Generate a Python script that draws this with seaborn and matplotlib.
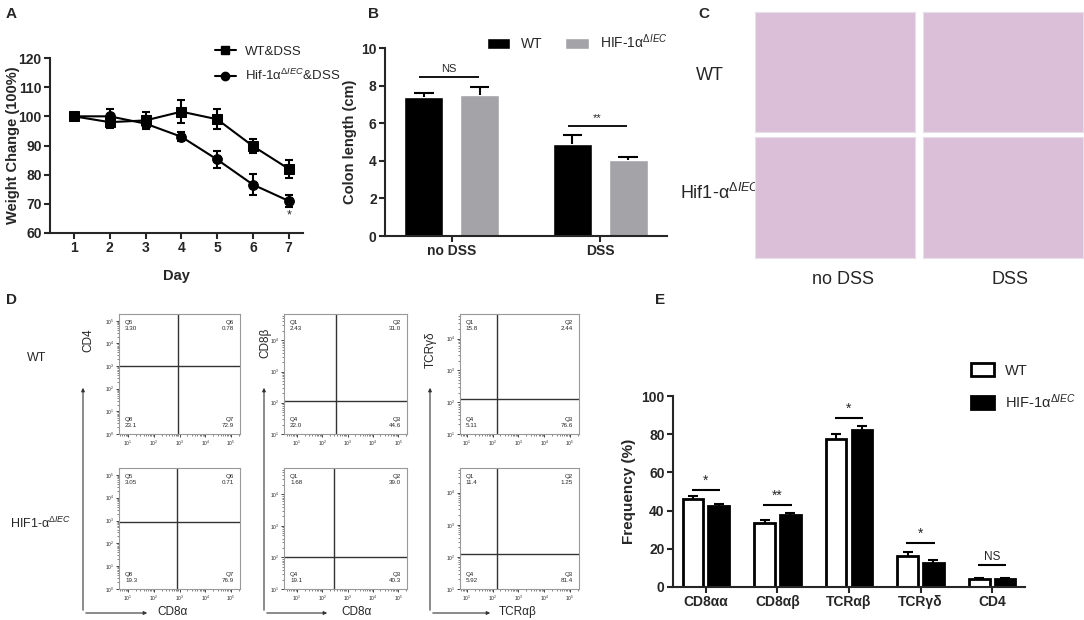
import matplotlib
matplotlib.use("Agg")
import matplotlib.pyplot as plt
import seaborn as sns
import numpy as np
import pandas as pd
from matplotlib.patches import Patch
from matplotlib.lines import Line2D

# ---- data ----
days = [1, 2, 3, 4, 5, 6, 7]
wt_dss = [100, 98.0, 98.6, 101.6, 99.0, 89.8, 82.0]
wt_dss_err = [0.4, 2.0, 3.0, 3.9, 3.5, 2.5, 3.0]
hif_dss = [100, 100.0, 97.5, 93.0, 85.2, 76.6, 71.0]
hif_dss_err = [0.3, 2.4, 1.5, 1.5, 3.0, 3.5, 2.0]

conditions = ["no DSS", "DSS"]
colon_wt = [7.42, 4.9]
colon_wt_err = [0.2, 0.45]
colon_hif = [7.5, 4.05]
colon_hif_err = [0.45, 0.15]
colon_sig = ["NS", "**"]
colon_sig_y = [8.45, 5.85]

cells = ["CD8αα", "CD8αβ", "TCRαβ", "TCRγδ", "CD4"]
freq_wt = [46.2, 33.3, 77.6, 16.4, 4.0]
freq_wt_err = [1.3, 2.0, 2.7, 2.0, 0.7]
freq_hif = [42.4, 37.8, 82.0, 12.6, 4.2]
freq_hif_err = [1.3, 1.2, 2.1, 1.7, 0.7]
freq_sig = ["*", "**", "*", "*", "NS"]
freq_sig_y = [50.6, 42.8, 88.6, 23.1, 11.5]

# flow quadrants: (Q top-left, top-right, bottom-left, bottom-right)
flow_names = [["Q5", "Q6", "Q8", "Q7"], ["Q1", "Q2", "Q4", "Q3"], ["Q1", "Q2", "Q4", "Q3"]]
flow_wt = [["3.30", "0.78", "23.1", "72.9"], ["2.43", "31.0", "22.0", "44.6"], ["15.8", "2.44", "5.11", "76.6"]]
flow_hif = [["3.05", "0.71", "19.3", "76.9"], ["1.68", "39.0", "19.1", "40.3"], ["11.4", "1.25", "5.92", "81.4"]]
flow_xlim = [(0.65, 5.35), (0.49, 5.35), (0.73, 5.35)]
flow_ylim = [(0.0, 5.3), (1.0, 4.84), (1.0, 4.77)]
gate_x = [(2.96, 2.92), (2.54, 2.46), (2.17, 2.17)]
gate_y = [(3.0, 2.94), (2.06, 2.03), (2.09, 2.09)]
flow_ylab = ["CD4", "CD8β", "TCRγδ"]
flow_xlab = ["CD8α", "CD8α", "TCRαβ"]

hif_sup = r"$^{\mathit{ΔIEC}}$"

sns.set_style("ticks")
plt.rcParams["font.family"] = ["Liberation Sans", "DejaVu Sans"]
plt.rcParams["mathtext.fontset"] = "custom"
plt.rcParams["mathtext.rm"] = "Liberation Sans"
plt.rcParams["mathtext.it"] = "Liberation Sans:italic"
plt.rcParams["mathtext.bf"] = "Liberation Sans:bold"

W, H = 1084, 620
fig = plt.figure(figsize=(W / 100, H / 100), dpi=100)


def rect(x0, y0, x1, y1):
    return [x0 / W, 1 - y1 / H, (x1 - x0) / W, (y1 - y0) / H]


def style_axis(ax):
    sns.despine(ax=ax)
    for s in ["left", "bottom"]:
        ax.spines[s].set_linewidth(1.5)
    ax.tick_params(width=1.5, length=4, pad=2, labelsize=10)
    for t in ax.get_xticklabels() + ax.get_yticklabels():
        t.set_fontweight("bold")


# overlay for free text and arrows (pixel coordinates)
ov = fig.add_axes([0, 0, 1, 1])
ov.set_xlim(0, W)
ov.set_ylim(H, 0)
ov.axis("off")
for lbl, x, y in [("A", 6, 14), ("B", 368, 14), ("C", 698, 14), ("D", 6, 300), ("E", 655, 300)]:
    ov.text(x, y, lbl, fontsize=11, fontweight="bold", va="center")

# ---- A ----
axA = fig.add_axes(rect(50, 58, 303, 233))
df_a = pd.DataFrame({"Day": days * 2, "Weight": wt_dss + hif_dss,
                     "Group": ["WT"] * 7 + ["HIF"] * 7})
sns.lineplot(data=df_a, x="Day", y="Weight", hue="Group", style="Group",
             markers=["s", "o"], dashes=False, palette=["black", "black"],
             markersize=7, markeredgecolor="black", lw=1.5, legend=False, ax=axA)
axA.errorbar(days, wt_dss, yerr=wt_dss_err, fmt="none", ecolor="black", capsize=3, elinewidth=1.5, capthick=1.5)
axA.errorbar(days, hif_dss, yerr=hif_dss_err, fmt="none", ecolor="black", capsize=3, elinewidth=1.5, capthick=1.5)
axA.text(7, 66, "*", ha="center", va="center", fontsize=9)
axA.set_xlim(0.33, 7.4)
axA.set_ylim(60, 120)
axA.set_xticks(days)
axA.set_yticks(range(60, 121, 10))
axA.set_xlabel("Day", fontsize=10.5, fontweight="bold", labelpad=10)
axA.set_ylabel("Weight Change (100%)", fontsize=10.5, fontweight="bold")
style_axis(axA)
axA.yaxis.set_label_coords(-0.118, 0.5)
hA = [Line2D([], [], color="black", marker="s", markersize=6, lw=1.5),
      Line2D([], [], color="black", marker="o", markersize=6, lw=1.5)]
axA.legend(hA, ["WT&DSS", "Hif-1α" + hif_sup + "&DSS"], loc="upper left",
           bbox_to_anchor=(203 / W, 1 - 34 / H), bbox_transform=fig.transFigure,
           frameon=False, fontsize=9.5, handlelength=1.6, handletextpad=0.7,
           labelspacing=0.75)

# ---- B ----
axB = fig.add_axes(rect(385, 48, 667, 236))
df_b = pd.DataFrame({"cond": conditions * 2, "len": colon_wt + colon_hif,
                     "geno": ["WT"] * 2 + ["HIF"] * 2})
sns.barplot(data=df_b, x="cond", y="len", hue="geno", hue_order=["WT", "HIF"],
            palette=["black", "#a4a4a8"], saturation=1, width=0.75, gap=0.3,
            errorbar=None, legend=False, ax=axB)
for cont, vals, errs in zip(axB.containers, [colon_wt, colon_hif], [colon_wt_err, colon_hif_err]):
    for bar, m, e in zip(cont, vals, errs):
        cx = bar.get_x() + bar.get_width() / 2
        axB.vlines(cx, m, m + e, color="black", lw=1.5)
        axB.hlines(m + e, cx - 0.065, cx + 0.065, color="black", lw=1.5)
for i, (s, y) in enumerate(zip(colon_sig, colon_sig_y)):
    axB.hlines(y, i - 0.22, i + 0.18, color="black", lw=1.3)
    axB.text(i - 0.02, y + 0.15, s, ha="center", va="bottom", fontsize=8)
axB.set_xlim(-0.45, 1.45)
axB.set_ylim(0, 10)
axB.set_yticks(range(0, 11, 2))
axB.set_xlabel("")
axB.set_ylabel("Colon length (cm)", fontsize=10.5, fontweight="bold", labelpad=3)
style_axis(axB)
hB = [Patch(facecolor="black"), Patch(facecolor="#a4a4a8")]
axB.legend(hB, ["WT", "HIF-1α" + hif_sup], loc="center left",
           bbox_to_anchor=(474 / W, 1 - 42 / H), bbox_transform=fig.transFigure,
           ncol=2, frameon=False, fontsize=10, handlelength=1.7, handleheight=0.8,
           handletextpad=0.8, columnspacing=1.6)

# ---- C ----
tiles = [(755, 12, 915, 132), (923, 12, 1083, 132), (755, 137, 915, 258), (923, 137, 1083, 258)]
for t in tiles:
    axc = fig.add_axes(rect(*t))
    axc.set_facecolor("#dbbfd9")
    axc.set_xticks([])
    axc.set_yticks([])
    for s in axc.spines.values():
        s.set_color("#e8e0e8")
ov.text(710, 75, "WT", fontsize=13, ha="center", va="center")
ov.text(680, 193, "Hif1-α" + hif_sup, fontsize=13, ha="left", va="center")
ov.text(843, 280, "no DSS", fontsize=13, ha="center", va="center")
ov.text(1010, 280, "DSS", fontsize=13, ha="center", va="center")

# ---- D ----
cols = [(119, 240), (284, 407), (460, 579)]
rows = [(314, 434), (468, 589)]
for c, (x0, x1) in enumerate(cols):
    for r, (y0, y1) in enumerate(rows):
        axd = fig.add_axes(rect(x0, y0, x1, y1))
        axd.set_xscale("log")
        axd.set_yscale("log")
        axd.set_xlim(10 ** flow_xlim[c][0], 10 ** flow_xlim[c][1])
        axd.set_ylim(10 ** flow_ylim[c][0], 10 ** flow_ylim[c][1])
        axd.axvline(10 ** gate_x[c][r], color="#333333", lw=1)
        axd.axhline(10 ** gate_y[c][r], color="#333333", lw=1)
        axd.tick_params(which="major", labelsize=3.5, length=2.5, width=0.6, pad=1)
        axd.tick_params(which="minor", length=1.2, width=0.4)
        for s in axd.spines.values():
            s.set_color("#999999")
            s.set_linewidth(0.8)
        vals = flow_wt[c] if r == 0 else flow_hif[c]
        nm = flow_names[c]
        kw = dict(fontsize=4.5, transform=axd.transAxes)
        axd.text(0.05, 0.95, nm[0] + "\n" + vals[0], ha="left", va="top", **kw)
        axd.text(0.95, 0.95, nm[1] + "\n" + vals[1], ha="right", va="top", **kw)
        axd.text(0.05, 0.05, nm[2] + "\n" + vals[2], ha="left", va="bottom", **kw)
        axd.text(0.95, 0.05, nm[3] + "\n" + vals[3], ha="right", va="bottom", **kw)

arrow_x = [83, 264, 430]
arrow_end = [150, 330, 493]
ylab_pos = [(88, 340), (265, 343), (431, 350)]
xlab_pos = [173, 357, 518]
for c in range(3):
    ov.annotate("", xy=(arrow_x[c], 385), xytext=(arrow_x[c], 613),
                arrowprops=dict(arrowstyle="-|>", color="#333333", lw=0.8, mutation_scale=5))
    ov.annotate("", xy=(arrow_end[c], 613), xytext=(arrow_x[c], 613),
                arrowprops=dict(arrowstyle="-|>", color="#333333", lw=0.8, mutation_scale=5))
    ov.text(ylab_pos[c][0], ylab_pos[c][1], flow_ylab[c], rotation=90, fontsize=8.5, ha="center", va="center")
    ov.text(xlab_pos[c], 612, flow_xlab[c], fontsize=8.5, ha="center", va="center")
ov.text(37, 358, "WT", fontsize=9, ha="center", va="center")
ov.text(10, 523, "HIF1-α" + hif_sup, fontsize=9, ha="left", va="center")

# ---- E ----
axE = fig.add_axes(rect(673, 396, 1025, 587))
df_e = pd.DataFrame({"cell": cells * 2, "freq": freq_wt + freq_hif,
                     "geno": ["WT"] * 5 + ["HIF"] * 5})
sns.barplot(data=df_e, x="cell", y="freq", hue="geno", hue_order=["WT", "HIF"],
            palette=["white", "black"], saturation=1, width=0.72, gap=0.2,
            edgecolor="black", linewidth=2, errorbar=None, legend=False, ax=axE)
for cont, vals, errs in zip(axE.containers, [freq_wt, freq_hif], [freq_wt_err, freq_hif_err]):
    for bar, m, e in zip(cont, vals, errs):
        cx = bar.get_x() + bar.get_width() / 2
        axE.vlines(cx, m, m + e, color="black", lw=1.5)
        axE.hlines(m + e, cx - 0.07, cx + 0.07, color="black", lw=1.5)
for i, (s, y) in enumerate(zip(freq_sig, freq_sig_y)):
    axE.hlines(y, i - 0.2, i + 0.2, color="black", lw=1.5)
    axE.text(i, y + 1.2, s, ha="center", va="bottom", fontsize=8.5 if s == "NS" else 10)
axE.set_xlim(-0.46, 4.46)
axE.set_ylim(0, 100)
axE.set_yticks(range(0, 101, 20))
axE.set_xlabel("")
axE.set_ylabel("Frequency (%)", fontsize=11, fontweight="bold")
style_axis(axE)
hE = [Patch(facecolor="white", edgecolor="black", lw=2), Patch(facecolor="black", edgecolor="black", lw=2)]
axE.legend(hE, ["WT", "HIF-1α" + hif_sup], loc="upper left",
           bbox_to_anchor=(958 / W, 1 - 350 / H), bbox_transform=fig.transFigure,
           frameon=False, fontsize=10.5, handlelength=1.6, handleheight=1.0,
           handletextpad=0.7, labelspacing=1.0)

fig.savefig("out.png", dpi=100)
